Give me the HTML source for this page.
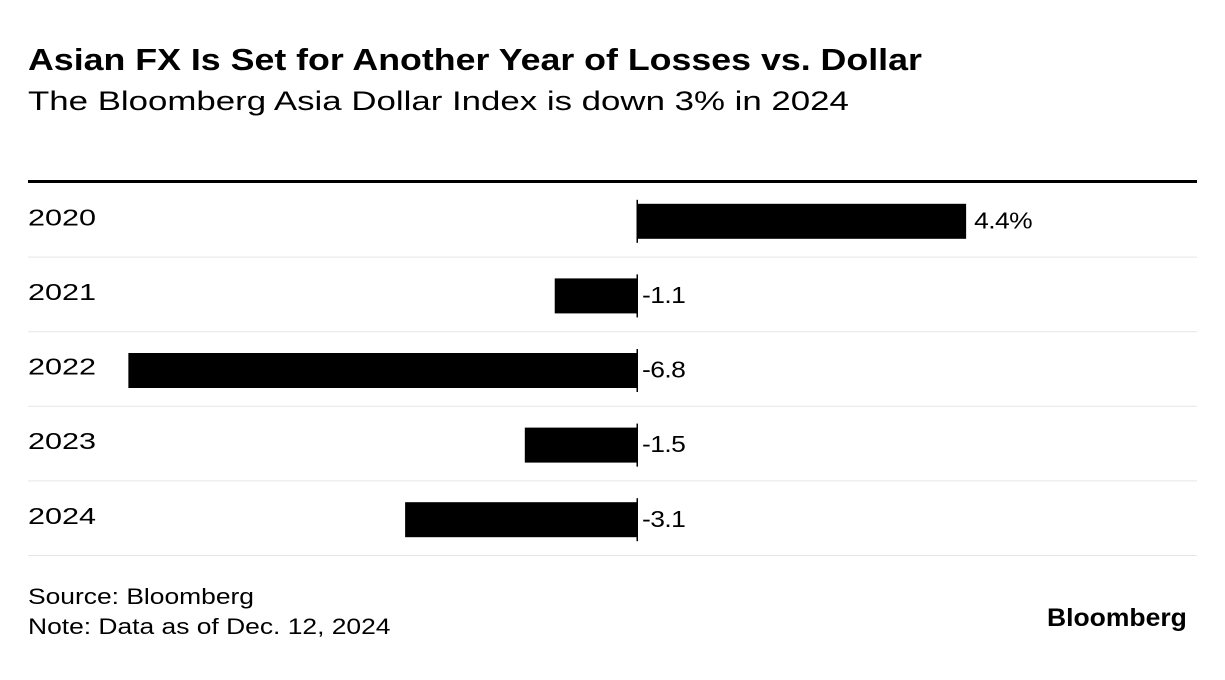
<!DOCTYPE html>
<html><head><meta charset="utf-8"><style>
body{margin:0;width:1225px;height:680px;background:#fff;font-family:"Liberation Sans",sans-serif;color:#000;overflow:hidden;position:relative}
.t,.s,.f,.logo{position:absolute;transform-origin:0 0;white-space:nowrap}
.t{left:28px;top:42px;font-size:31px;font-weight:bold;transform:scaleX(1.153)}
.s{left:28px;top:86px;font-size:27px;transform:scaleX(1.29)}
.f{left:28px;font-size:22px;transform:scaleX(1.2)}
.logo{left:1047px;top:604px;font-size:25px;font-weight:bold;transform:scaleX(1.06)}
</style></head><body>
<div class="t">Asian FX Is Set for Another Year of Losses vs. Dollar</div>
<div class="s">The Bloomberg Asia Dollar Index is down 3% in 2024</div>
<svg id="c" width="1225" height="680" style="position:absolute;left:0;top:0"></svg>
<div class="f" style="top:584px">Source: Bloomberg</div>
<div class="f" style="top:614px">Note: Data as of Dec. 12, 2024</div>
<div class="logo">Bloomberg</div>
<script>
const categories=["2020","2021","2022","2023","2024"];
const values=[4.4,-1.1,-6.8,-1.5,-3.1];
const valueLabels=["4.4%","-1.1","-6.8","-1.5","-3.1"];
const NS="http://www.w3.org/2000/svg";
const svg=document.getElementById('c');
const zeroX=637, unit=74.8, top0=183, rowH=74.6, barH=35;
const x=v=>zeroX+v*unit;
function mk(t,a){const e=document.createElementNS(NS,t);for(const k in a)e.setAttribute(k,a[k]);svg.appendChild(e);return e;}
const rule=mk('rect',{x:28,y:180,width:1169,height:3,fill:'#000'});


categories.forEach((c,i)=>{
  const y0=top0+i*rowH;
  const cy=y0+rowH/2+1;
  const sep=mk('rect',{x:28,y:y0+rowH-1,width:1169,height:1,fill:'#e6e6e6'});
  
  
  const lab=mk('text',{transform:`translate(28,${cy-2}) scale(1.33,1)`,'font-size':23,'dominant-baseline':'middle','font-family':'Liberation Sans, sans-serif'});
  lab.textContent=c;
  
  
  const v=values[i];
  const b=mk('rect',{x:Math.min(x(0),x(v)),y:cy-barH/2,width:Math.abs(x(v)-x(0)),height:barH,fill:'#000'});
  
  
  const z=mk('rect',{x:zeroX-0.5,y:cy-barH/2-4,width:1.5,height:barH+8,fill:'#000'});
  
  
  const vx=v>=0?x(v)+8:zeroX+5;
  const vl=mk('text',{transform:`translate(${vx},${cy+1}) scale(1.15,1)`,'font-size':23,'dominant-baseline':'middle','font-family':'Liberation Sans, sans-serif','letter-spacing':'-0.5'});
  vl.textContent=valueLabels[i];
  
  
});
</script>
</body></html>
